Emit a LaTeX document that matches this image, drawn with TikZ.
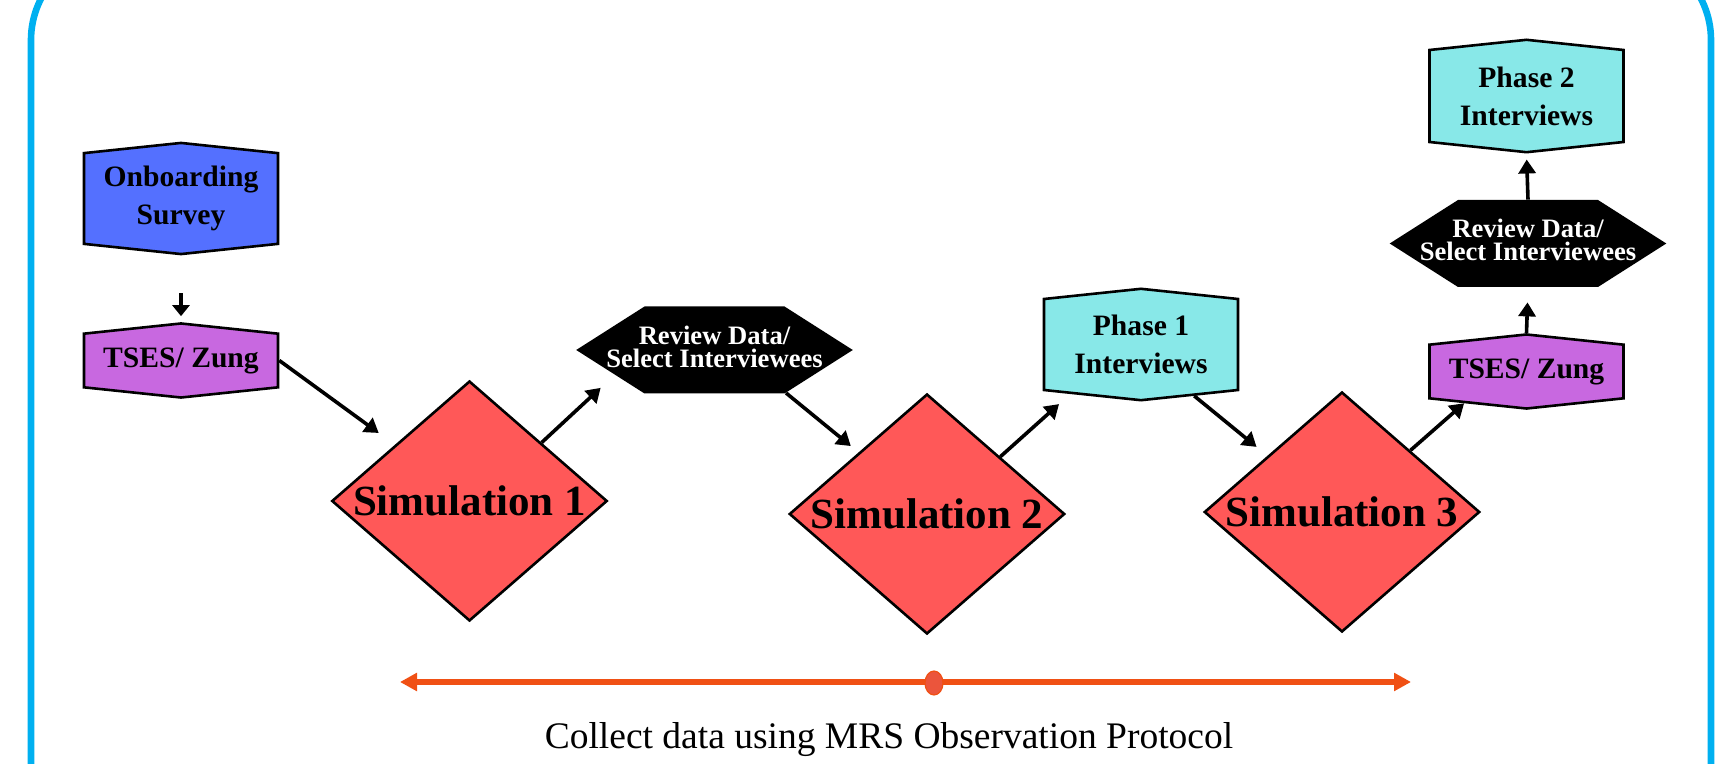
\documentclass[tikz,border=0pt]{standalone}
\usepackage{fontspec}
\setmainfont{Liberation Serif}
\usetikzlibrary{arrows.meta,shapes.geometric,shapes.symbols}

\definecolor{onbblue}{RGB}{84,112,255}
\definecolor{tsespurple}{RGB}{200,104,224}
\definecolor{phasecyan}{RGB}{136,232,232}
\definecolor{simred}{RGB}{255,88,88}
\definecolor{framecyan}{RGB}{0,176,240}
\definecolor{obsorange}{RGB}{240,80,20}
\definecolor{dotred}{RGB}{235,85,60}

\newcommand{\reviewtext}{\makebox[70pt]{\raisebox{1.5pt}{\begin{tabular}{@{}c@{}}Review Data/\\[-1.2pt]Select Interviewees\end{tabular}}}}

\tikzset{
  hexv/.style={shape=signal, signal to=north and south, signal pointer angle=168,
    draw=black, line width=1.3pt, inner sep=0pt, align=center,
    minimum width=97pt, font=\bfseries\fontsize{14.8}{19}\selectfont},
  hexh/.style={shape=signal, signal to=west and east, signal pointer angle=65,
    fill=black, text=white, inner sep=0pt,
    minimum height=43.5pt, font=\bfseries\fontsize{13.3}{11.5}\selectfont},
  simbox/.style={shape=diamond, shape aspect=1.4, draw=black, line width=1.3pt, fill=simred,
    inner sep=0pt, minimum width=137.5pt, minimum height=120pt,
    font=\bfseries\fontsize{21.5}{24}\selectfont},
  arr/.style={line width=1.8pt, -{Triangle[length=7pt,width=8.5pt]}}
}

\begin{document}
\begin{tikzpicture}[x=0.5pt,y=0.5pt,yscale=-1]
\useasboundingbox (0,0) rectangle (1715,764);

%Frame
\draw [framecyan, line width=3.3pt, rounded corners=45pt] (31,-50) rectangle (1711,950);

%Shapes
\node [hexv, fill=onbblue, minimum height=53.5pt] (onb) at (181,198.5) {Onboarding\\Survey};
\node [hexv, fill=tsespurple, minimum height=35pt] (tses1) at (181,360.5) {TSES/ Zung};
\node [simbox] (sim1) at (469.5,501) {Simulation 1};
\node [hexh] (rev1) at (714.5,350) {\reviewtext};
\node [simbox] (sim2) at (927,514) {Simulation 2};
\node [hexv, fill=phasecyan, minimum height=52.5pt] (phase1) at (1141,344.5) {Phase 1\\Interviews};
\node [simbox] (sim3) at (1342,512) {Simulation 3};
\node [hexv, fill=tsespurple, minimum height=35pt] (tses2) at (1526.5,371.5) {TSES/ Zung};
\node [hexh] (rev2) at (1528,243.5) {\reviewtext};
\node [hexv, fill=phasecyan, minimum height=53pt] (phase2) at (1526.5,96) {Phase 2\\Interviews};

%Straight Lines
\draw [line width=1.8pt, -{Triangle[length=5.5pt,width=8.5pt]}, shorten <=19pt, shorten >=3pt] (onb.south) -- (tses1.north);
\draw [arr, shorten >=10pt] (tses1.east) -- (sim1.143);
\draw [arr, shorten >=9.5pt] (sim1.39) -- (rev1.194);
\draw [arr, shorten >=5pt] (rev1.329) -- (sim2.138);
\draw [arr, shorten >=7.5pt] (sim2.38) -- (phase1.215);
\draw [arr, shorten >=7pt] (phase1.316) -- (sim3.143);
\draw [arr] (sim3.42) -- (tses2.207);
\draw [arr, shorten >=7.5pt] (tses2.north) -- (rev2.south);
\draw [arr, shorten >=3pt] (rev2.north) -- (phase2.south);

%Observation line
\coordinate (obsL) at (400,682);
\coordinate (obsR) at (1411,682);
\draw [obsorange, line width=2.6pt, {Triangle[length=8.5pt,width=8.7pt]}-{Triangle[length=8.5pt,width=8.7pt]}] (obsL) -- (obsR);
\node [ellipse, fill=dotred, draw=obsorange, line width=0.6pt, inner sep=0pt, minimum width=9pt, minimum height=12pt] (dot) at (934,683) {};

% Text Node
\node [anchor=base, font=\fontsize{18.75}{22}\selectfont] (obstext) at (889,748) {Collect data using MRS Observation Protocol};

\end{tikzpicture}
\end{document}
